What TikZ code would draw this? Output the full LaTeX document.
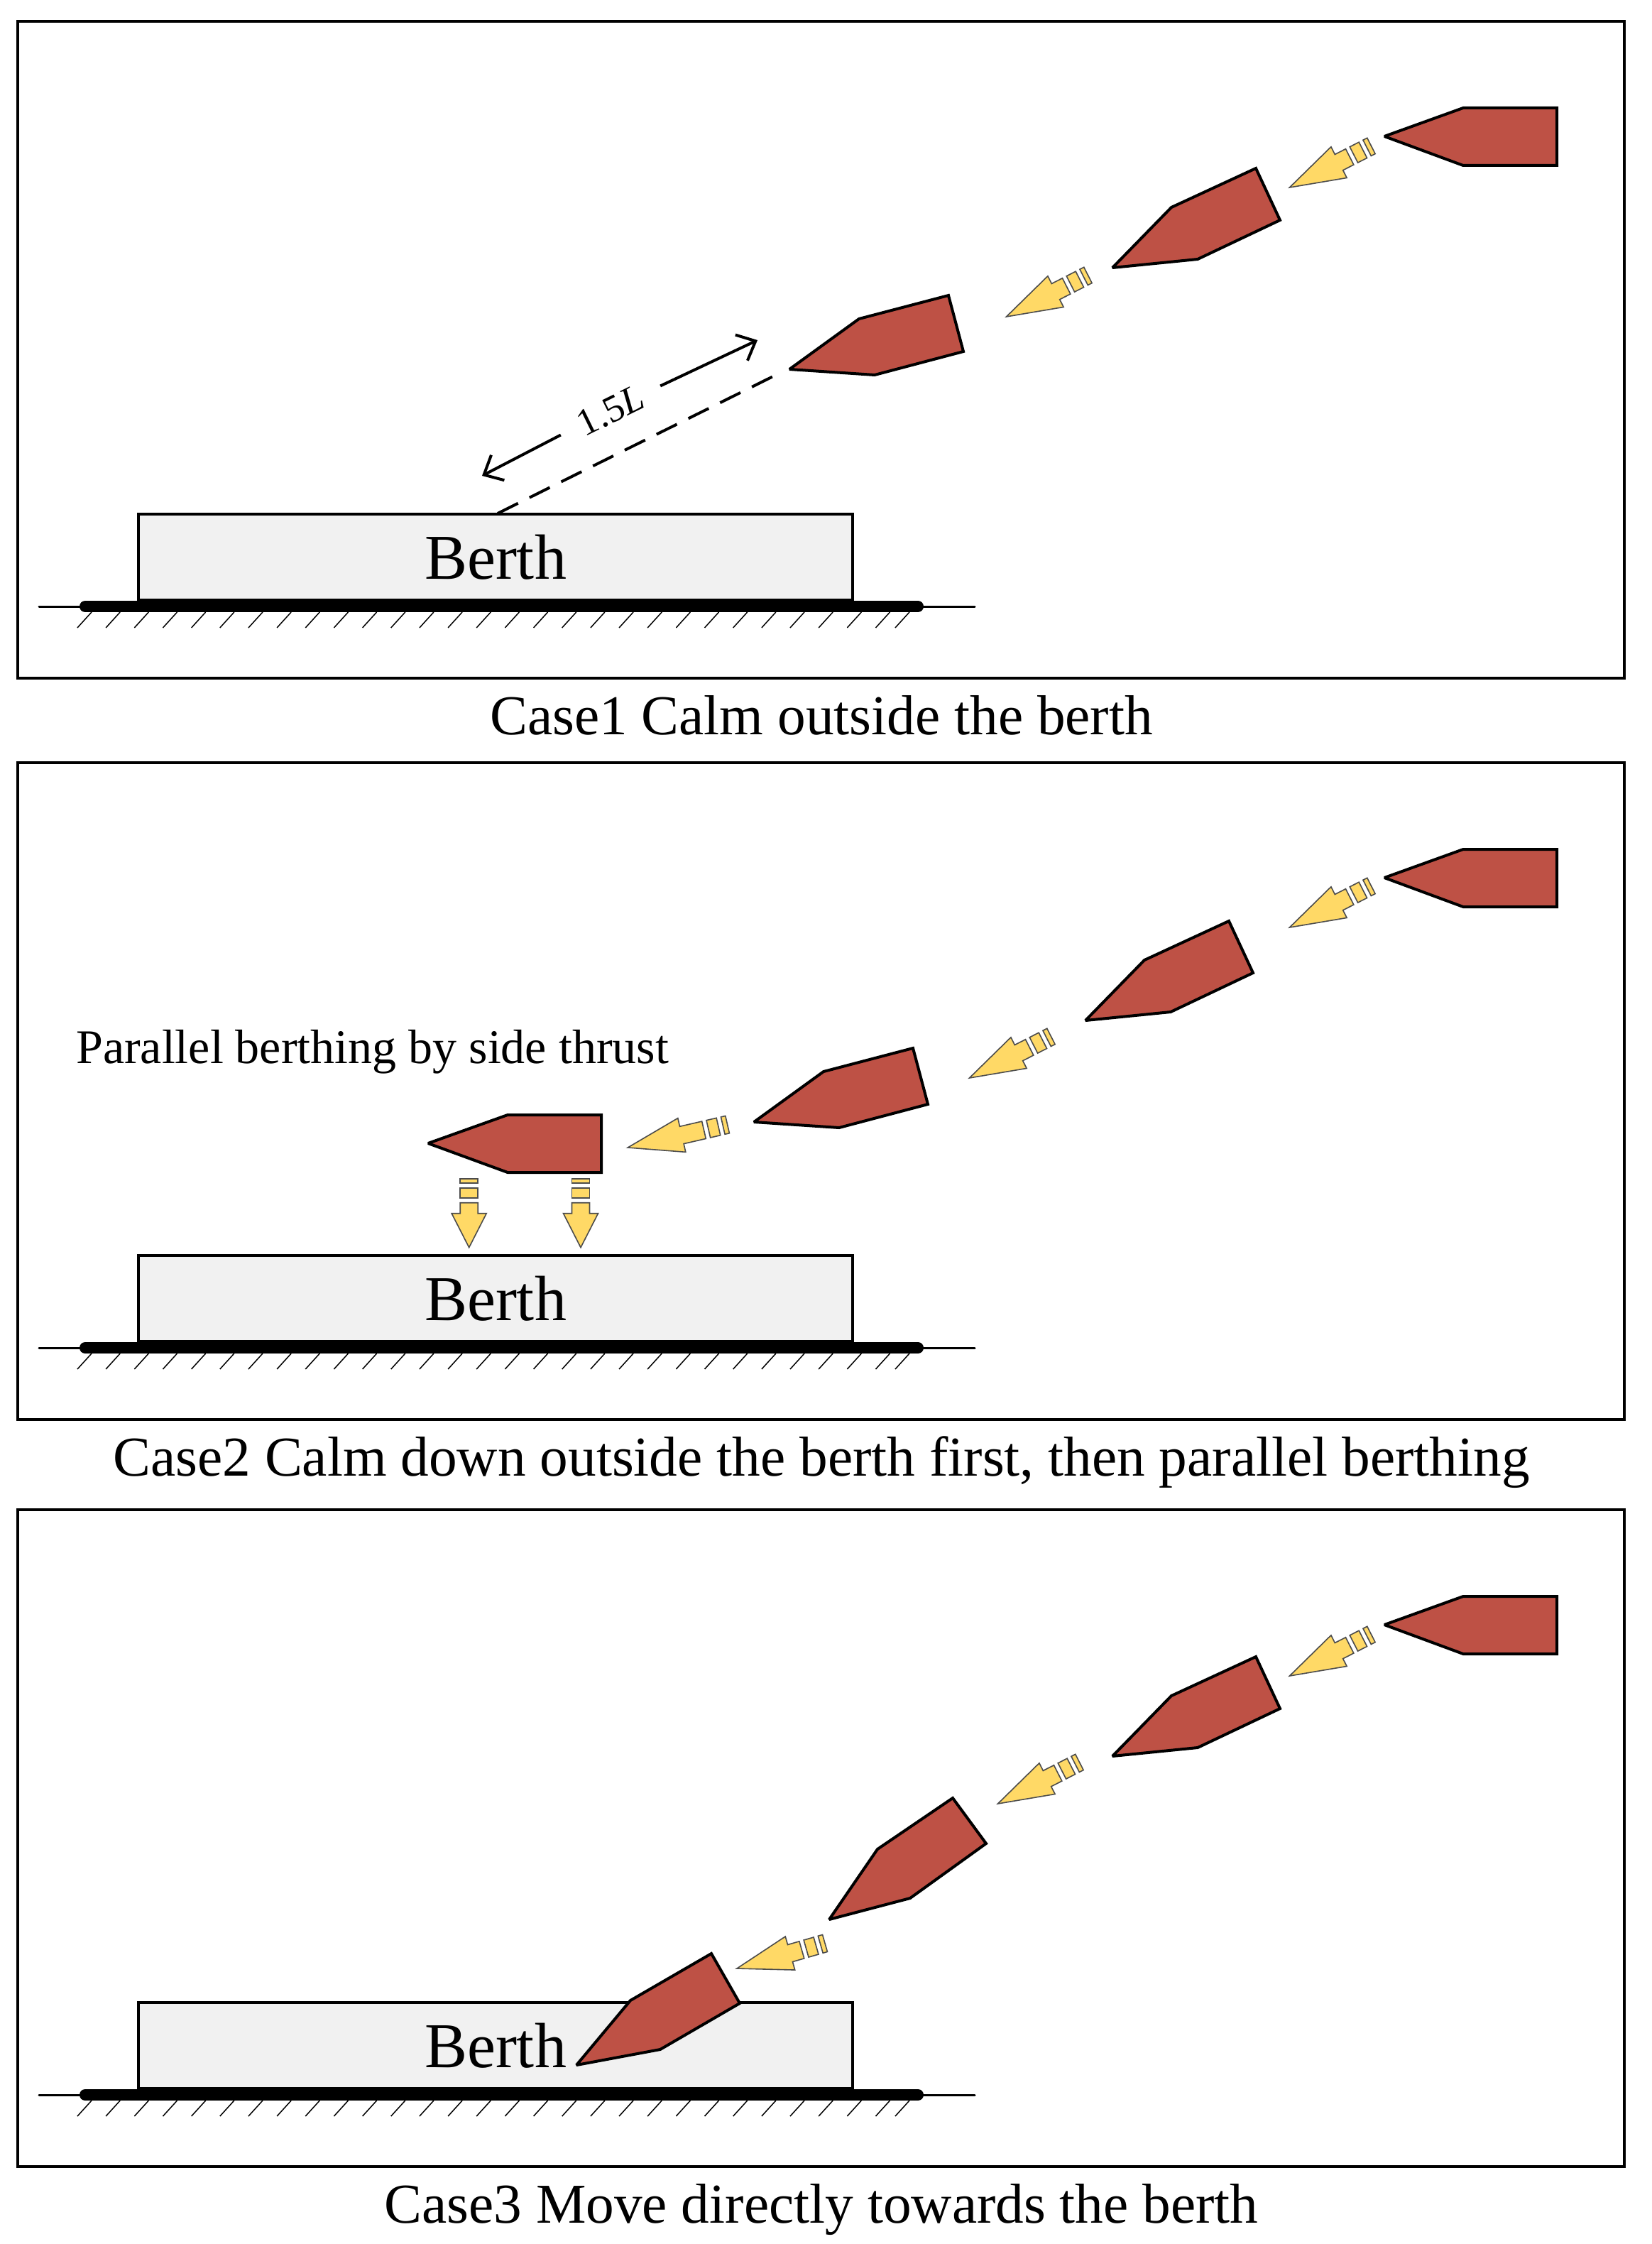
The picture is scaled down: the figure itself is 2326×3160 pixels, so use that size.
\documentclass[tikz,border=0pt]{standalone}
\usepackage{fontspec}
\setmainfont{Liberation Serif}
\usetikzlibrary{arrows.meta}
\definecolor{shipred}{HTML}{BE5145}
\definecolor{thrustyellow}{HTML}{FFD966}
\definecolor{berthgrey}{HTML}{F1F1F1}
\tikzset{
  frameline/.style={draw=black,line width=4pt,fill=none,minimum width=2263pt,minimum height=925pt,inner sep=0pt},
  berthbox/.style={draw=black,line width=4pt,fill=berthgrey,minimum width=1006pt,minimum height=121pt,inner sep=0pt,font=\fontsize{90}{100}\selectfont},
  shipbox/.style={draw=black,line width=4pt,fill=shipred,line join=miter,miter limit=2.5},
  thrustbox/.style={draw=black!70,line width=1.6pt,fill=thrustyellow,line join=miter},
  captiontext/.style={anchor=base,inner sep=0pt,font=\fontsize{79.3}{90}\selectfont},
  dimtip/.style={line width=4pt},
}
% thruster: tip x, tip y, angle, head length, shaft length
\newcommand\thruster[5]{%
  \begin{scope}[shift={(#1,#2)},rotate=#3]
    \pgfmathsetmacro\shaftend{#4+#5}
    \pgfmathsetmacro\ra{\shaftend+6.5}
    \pgfmathsetmacro\rb{\ra+14.5}
    \pgfmathsetmacro\rc{\rb+6.5}
    \pgfmathsetmacro\rd{\rc+6.5}
    \draw[thrustbox] (0,0)--(#4,24.5)--(#4,12.5)--(\shaftend,12.5)--(\shaftend,-12.5)--(#4,-12.5)--(#4,-24.5)--cycle;
    \draw[thrustbox] (\ra,12.5) rectangle (\rb,-12.5);
    \draw[thrustbox] (\rc,12.5) rectangle (\rd,-12.5);
  \end{scope}}
% panel base: index, vertical offset
\newcommand\panelbase[2]{%
  \begin{scope}[shift={(0,#2)}]
    \node[frameline] (frame#1) at (1156.5,492.5) {};
    \node[berthbox] (berth#1) at (698,784.5) {Berth};
    \coordinate (quayL#1) at (55,854);
    \coordinate (quayR#1) at (1373,854);
    \coordinate (barL#1) at (120,854);
    \coordinate (barR#1) at (1293,854);
    \draw[line width=3pt,line cap=round] (quayL#1) -- (quayR#1);
    \draw[line width=16pt,line cap=round] (barL#1) -- (barR#1);
    \foreach \k in {0,...,28}{
      \pgfmathsetmacro\hx{109+40.16*\k}
      \draw[line width=1.5pt] (\hx,884) -- ++(20,-22);
    }
    \draw[line width=1.5pt] (1261,884) -- ++(20,-22);
  \end{scope}}
\def\shipOne{(1950,192)--(2061,152)--(2193,152)--(2193,233)--(2061,233)--cycle}
\def\shipTwo{(1567,377)--(1650,292)--(1769,237)--(1803,310)--(1687,365)--cycle}
\def\shipThree{(1112,520)--(1210,449)--(1336,416)--(1357,495)--(1232,528)--cycle}
\begin{document}
\begin{tikzpicture}[x=1pt,y=-1pt]
\useasboundingbox (0,0) rectangle (2326,3160);
\fill[white] (0,0) rectangle (2326,3160);
% ---------- Case 1
\panelbase{1}{0}
\draw[shipbox] \shipOne;
\draw[shipbox] \shipTwo;
\draw[shipbox] \shipThree;
\thruster{1816.5}{264}{27}{78}{17}
\thruster{1417.5}{446}{27}{78}{17}
\coordinate (dashA) at (701,723);
\coordinate (dashB) at (1091,529);
\draw[line width=4pt,dash pattern=on 32pt off 18pt] (dashA) -- (dashB);
\coordinate (dimA) at (679,670);
\coordinate (dimB) at (1067,479);
\node[rotate=26.2,minimum width=156pt,inner sep=0pt,font=\fontsize{54}{60}\selectfont] (dimlabel) at (860,578) {1.5\textit{L}};
\draw[dimtip,{Straight Barb[length=22pt,width=40pt]}-] (dimA) -- (dimlabel.west);
\draw[dimtip,-{Straight Barb[length=22pt,width=40pt]}] (dimlabel.east) -- (dimB);
\node[captiontext] (cap1) at (1157,1034) {Case1 Calm outside the berth};
% ---------- Case 2
\panelbase{2}{1044}
\draw[shipbox,shift={(0,1044)}] \shipOne;
\draw[shipbox,shift={(-38,1060)}] \shipTwo;
\draw[shipbox,shift={(-50,1060)}] \shipThree;
\draw[shipbox] (603,1610)--(715,1570)--(847,1570)--(847,1651)--(715,1651)--cycle;
\thruster{1816.5}{1306}{27}{78}{17}
\thruster{1365.5}{1518}{27}{78}{17}
\thruster{884.3}{1616}{13}{78}{32}
\thruster{660.7}{1756.7}{90}{48}{15}
\thruster{818}{1756.7}{90}{48}{15}
\node[anchor=base west,inner sep=0pt,font=\fontsize{68}{76}\selectfont] (note2) at (107,1497) {Parallel berthing by side thrust};
\node[captiontext] (cap2) at (1157,2078) {Case2 Calm down outside the berth first, then parallel berthing};
% ---------- Case 3
\panelbase{3}{2096}
\draw[shipbox,shift={(0,2096)}] \shipOne;
\draw[shipbox,shift={(0,2096)}] \shipTwo;
\draw[shipbox] (1168,2703)--(1236,2604)--(1342,2532)--(1389,2596)--(1282,2673)--cycle;
\draw[shipbox] (812,2908)--(888,2817)--(1002,2751)--(1042,2821)--(930,2886)--cycle;
\thruster{1816.5}{2360}{27}{78}{17}
\thruster{1405.5}{2540}{27}{78}{17}
\thruster{1038}{2772}{16}{78}{17}
\node[captiontext] (cap3) at (1157,3130) {Case3 Move directly towards the berth};
\end{tikzpicture}
\end{document}
